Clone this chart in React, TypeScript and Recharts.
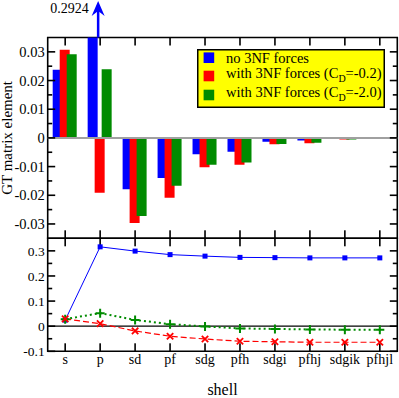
import React from 'react';
import { ComposedChart, Bar, Line, XAxis, YAxis, ReferenceLine, ReferenceArea, Legend } from 'recharts';

// ---------- data ----------
const shells = ['s', 'p', 'sd', 'pf', 'sdg', 'pfh', 'sdgi', 'pfhj', 'sdgik', 'pfhjl'];

// top panel: contribution of each shell
const noThreeNF = [0.0238, 0.2924, -0.0179, -0.014, -0.0057, -0.0048, -0.0013, -0.0009, -0.0004, -0.0003];
const withCd02 = [0.0307, -0.0191, -0.0297, -0.0209, -0.0102, -0.0094, -0.0022, -0.0019, -0.0006, -0.0004];
const withCd20 = [0.0292, 0.0239, -0.0272, -0.0167, -0.0094, -0.0086, -0.0021, -0.0017, -0.0006, -0.0004];

// bottom panel: running totals
const sumNoThreeNF = [0.024, 0.316, 0.299, 0.285, 0.279, 0.274, 0.273, 0.272, 0.272, 0.272];
const sumCd02 = [0.029, 0.01, -0.019, -0.04, -0.051, -0.06, -0.062, -0.064, -0.064, -0.064];
const sumCd20 = [0.028, 0.052, 0.025, 0.008, -0.001, -0.009, -0.011, -0.013, -0.014, -0.014];

const seriesNames = ['no 3NF forces', 'with 3NF forces (C_D=-0.2)', 'with 3NF forces (C_D=-2.0)'];
const seriesColors = ['#0000ff', '#ff0000', '#008b00'];

const topDomain = [-0.035, 0.035];
const topTicks = [-0.03, -0.025, -0.02, -0.015, -0.01, -0.005, 0, 0.005, 0.01, 0.015, 0.02, 0.025, 0.03];
const bottomDomain = [-0.1, 0.35];
const bottomTicks = [-0.1, -0.05, 0, 0.05, 0.1, 0.15, 0.2, 0.25, 0.3];

const overflowShell = 'p';
const overflowLabel = '0.2924';
const arrowTipValue = 0.0477;

const yLabel = 'GT matrix element';
const xLabel = 'shell';

const barData = shells.map((shell, i) => ({
  shell,
  noThreeNF: noThreeNF[i],
  cd02: withCd02[i],
  cd20: withCd20[i],
}));

const lineData = shells.map((shell, i) => ({
  shell,
  noThreeNF: sumNoThreeNF[i],
  cd02: sumCd02[i],
  cd20: sumCd20[i],
}));

// ---------- styling helpers ----------
const FONT = 'Liberation Serif, Times New Roman, Times, serif';
const TICK_W = 1.6;

const isMajor = (v: number, step: number) => {
  const r = v / step;
  return Math.abs(r - Math.round(r)) < 1e-6;
};

const okNum = (...vals: any[]) => vals.every((v) => typeof v === 'number' && !isNaN(v));

// horizontal reference line drawn as inward ticks (left + right) plus a label
const yTickShape = (v: number, step: number, digits: number, fontSize: number) => (props: any) => {
  const { x1, x2, y1 } = props;
  if (!okNum(x1, x2, y1)) return <g />;
  const left = Math.min(x1, x2);
  const right = Math.max(x1, x2);
  const major = isMajor(v, step);
  const len = major ? 7.5 : 4.5;
  const text = Math.abs(v) < 1e-9 ? '0' : v.toFixed(digits);
  return (
    <g>
      <rect x={left} y={y1 - TICK_W / 2} width={len} height={TICK_W} fill="#000" />
      <rect x={right - len} y={y1 - TICK_W / 2} width={len} height={TICK_W} fill="#000" />
      {major && (
        <text x={left - 3} y={y1} dy="0.35em" textAnchor="end" fontFamily={FONT} fontSize={fontSize} fill="#000">
          {text}
        </text>
      )}
    </g>
  );
};

// vertical reference line drawn as inward ticks at top and bottom (and category label)
const xTickShape = (label: string | null) => (props: any) => {
  const { x1, y1, y2 } = props;
  if (!okNum(x1, y1, y2)) return <g />;
  const top = Math.min(y1, y2);
  const bottom = Math.max(y1, y2);
  return (
    <g>
      <rect x={x1 - TICK_W / 2} y={top} width={TICK_W} height={8} fill="#000" />
      <rect x={x1 - TICK_W / 2} y={bottom - 8} width={TICK_W} height={8} fill="#000" />
      {label !== null && (
        <text x={x1} y={bottom + 12.7} textAnchor="middle" fontFamily={FONT} fontSize={14} fill="#000">
          {label}
        </text>
      )}
    </g>
  );
};

const renderYLabel = (props: any) => {
  const vb = props.viewBox || {};
  const cx = (vb.x || 0) + 11.7;
  const cy = (vb.y || 0) + (vb.height || 0) / 2;
  return (
    <text x={cx} y={cy} transform={`rotate(-90 ${cx} ${cy})`} textAnchor="middle" fontFamily={FONT} fontSize={15} fill="#000">
      {yLabel}
    </text>
  );
};

const renderXLabel = (props: any) => {
  const vb = props.viewBox || {};
  const cx = (vb.x || 0) + (vb.width || 0) / 2;
  const cy = (vb.y || 0) + 43.7;
  return (
    <text x={cx} y={cy} textAnchor="middle" fontFamily={FONT} fontSize={16} fill="#000">
      {xLabel}
    </text>
  );
};

const ArrowShape = (props: any) => {
  const { x1, y1, x2, y2 } = props;
  if (!okNum(x1, y1, x2, y2)) return <g />;
  const x = x1 - 2;
  const tipY = Math.min(y1, y2);
  const baseY = Math.max(y1, y2);
  return (
    <g>
      <rect x={x - 1.25} y={tipY + 9} width={2.5} height={baseY - tipY - 9} fill="#0000ff" />
      <polygon
        points={`${x},${tipY} ${x - 6.5},${tipY + 15} ${x},${tipY + 10} ${x + 6.5},${tipY + 15}`}
        fill="#0000ff"
      />
      <text x={x - 9.5} y={tipY + 12.3} textAnchor="end" fontFamily={FONT} fontSize={14} fill="#000">
        {overflowLabel}
      </text>
    </g>
  );
};

const renderLegendName = (name: string) => {
  const idx = name.indexOf('_D');
  if (idx < 0) return name;
  return (
    <>
      {name.slice(0, idx)}
      <tspan fontSize={10} dy={4}>D</tspan>
      <tspan dy={-4}>{name.slice(idx + 2)}</tspan>
    </>
  );
};

const LegendBox = (props: any) => {
  const payload = (props.payload || []) as any[];
  const squareTops = [3.4, 21.7, 40.7];
  const baselines = [14.2, 29.3, 48];
  return (
    <svg width={188} height={59} style={{ display: 'block' }}>
      <rect x={0} y={0} width={188} height={59} fill="#000" />
      <rect x={1.5} y={1.5} width={185} height={56} fill="#ffff00" />
      {payload.map((entry, i) => (
        <g key={i}>
          <rect x={6.6} y={squareTops[i]} width={10.6} height={10.6} fill={entry.color} />
          <text x={29} y={baselines[i]} fontFamily={FONT} fontSize={14.5} fill="#000">
            {renderLegendName(String(entry.value))}
          </text>
        </g>
      ))}
    </svg>
  );
};

const SquareDot = (props: any) => {
  const { cx, cy, index } = props;
  return <rect key={`sq-${index}`} x={cx - 2.5} y={cy - 2.5} width={5} height={5} fill="#0000ff" />;
};

const CrossDot = (props: any) => {
  const { cx, cy, index } = props;
  return (
    <path
      key={`cr-${index}`}
      d={`M${cx - 3.2},${cy - 3.2}L${cx + 3.2},${cy + 3.2}M${cx - 3.2},${cy + 3.2}L${cx + 3.2},${cy - 3.2}`}
      stroke="#ff0000"
      strokeWidth={1.8}
      fill="none"
    />
  );
};

const PlusDot = (props: any) => {
  const { cx, cy, index } = props;
  return (
    <path
      key={`pl-${index}`}
      d={`M${cx - 4.5},${cy}H${cx + 4.5}M${cx},${cy - 4.5}V${cy + 4.5}`}
      stroke="#008b00"
      strokeWidth={2}
      fill="none"
    />
  );
};

export default function App() {
  return (
    <div style={{ position: 'absolute', left: 0, top: 0, width: 399, height: 398 }}>
      {/* top panel */}
      <div style={{ width: 399, height: 240 }}>
        <ComposedChart
          width={399}
          height={240}
          data={barData}
          margin={{ top: 37.5, right: 1.7, bottom: 1.7, left: 0 }}
          barGap={-3}
          barSize={10}
        >
          <XAxis dataKey="shell" scale="band" height={0} tick={false} tickLine={false} axisLine={false} />
          <YAxis
            type="number"
            domain={topDomain}
            ticks={topTicks}
            allowDataOverflow
            width={47.7}
            tick={false}
            tickLine={false}
            axisLine={false}
            label={renderYLabel}
          />
          <Bar dataKey="noThreeNF" name={seriesNames[0]} fill={seriesColors[0]} isAnimationActive={false} />
          <Bar dataKey="cd02" name={seriesNames[1]} fill={seriesColors[1]} isAnimationActive={false} />
          <Bar dataKey="cd20" name={seriesNames[2]} fill={seriesColors[2]} isAnimationActive={false} />
          <ReferenceLine y={0} stroke="#a0a0a0" strokeWidth={2} />
          <ReferenceArea
            y1={topDomain[0]}
            y2={topDomain[1]}
            fill="none"
            stroke="#000"
            strokeWidth={1.6}
            ifOverflow="visible"
          />
          {topTicks.map((v) => (
            <ReferenceLine key={`ty-${v}`} y={v} ifOverflow="visible" shape={yTickShape(v, 0.01, 2, 14.5)} />
          ))}
          {shells.map((s) => (
            <ReferenceLine key={`tx-${s}`} x={s} ifOverflow="visible" shape={xTickShape(null)} />
          ))}
          <ReferenceLine
            segment={[
              { x: overflowShell, y: topDomain[1] },
              { x: overflowShell, y: arrowTipValue },
            ]}
            ifOverflow="visible"
            shape={ArrowShape}
          />
          <Legend
            layout="vertical"
            align="center"
            verticalAlign="middle"
            wrapperStyle={{ left: 196.7, top: 49.3, width: 188, height: 59 }}
            content={LegendBox}
          />
        </ComposedChart>
      </div>

      {/* bottom panel */}
      <div style={{ width: 399, height: 170, marginTop: -12 }}>
        <ComposedChart
          width={399}
          height={170}
          data={lineData}
          margin={{ top: 10.3, right: 1.7, bottom: 0, left: 0 }}
        >
          <XAxis
            dataKey="shell"
            scale="band"
            height={46.7}
            tick={false}
            tickLine={false}
            axisLine={false}
            label={renderXLabel}
          />
          <YAxis
            type="number"
            domain={bottomDomain}
            ticks={bottomTicks}
            width={47.7}
            tick={false}
            tickLine={false}
            axisLine={false}
          />
          <ReferenceArea
            y1={bottomDomain[0]}
            y2={bottomDomain[1]}
            fill="none"
            stroke="#000"
            strokeWidth={1.6}
            ifOverflow="visible"
          />
          <ReferenceLine y={0} stroke="#000" strokeWidth={1.2} />
          {bottomTicks.map((v) => (
            <ReferenceLine key={`by-${v}`} y={v} ifOverflow="visible" shape={yTickShape(v, 0.1, 1, 13.5)} />
          ))}
          {shells.map((s) => (
            <ReferenceLine key={`bx-${s}`} x={s} ifOverflow="visible" shape={xTickShape(s)} />
          ))}
          <Line
            type="linear"
            dataKey="noThreeNF"
            name={seriesNames[0]}
            stroke={seriesColors[0]}
            strokeWidth={1}
            dot={SquareDot}
            activeDot={false}
            isAnimationActive={false}
          />
          <Line
            type="linear"
            dataKey="cd20"
            name={seriesNames[2]}
            stroke={seriesColors[2]}
            strokeWidth={2}
            strokeDasharray="2 3"
            dot={PlusDot}
            activeDot={false}
            isAnimationActive={false}
          />
          <Line
            type="linear"
            dataKey="cd02"
            name={seriesNames[1]}
            stroke={seriesColors[1]}
            strokeWidth={1.2}
            strokeDasharray="6 3"
            dot={CrossDot}
            activeDot={false}
            isAnimationActive={false}
          />
        </ComposedChart>
      </div>
    </div>
  );
}
